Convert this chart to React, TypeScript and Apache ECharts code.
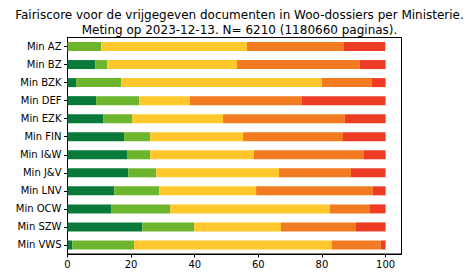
import React, { useEffect, useRef } from "react";
import * as echarts from "echarts";

const categories = ["Min AZ", "Min BZ", "Min BZK", "Min DEF", "Min EZK", "Min FIN", "Min I&W", "Min J&V", "Min LNV", "Min OCW", "Min SZW", "Min VWS"];
const darkGreen = [0, 8.7, 2.7, 9.0, 11.2, 17.8, 18.7, 19.1, 14.7, 13.7, 23.5, 1.5];
const lightGreen = [10.6, 3.8, 14.2, 13.5, 9.1, 8.2, 7.3, 8.8, 14.1, 18.6, 16.3, 19.4];
const yellow = [45.8, 40.8, 63.1, 16.0, 28.6, 29.2, 32.6, 38.6, 30.5, 50.2, 27.3, 62.2];
const orange = [30.5, 38.6, 15.7, 35.2, 38.3, 31.4, 34.6, 22.6, 36.7, 12.6, 23.6, 15.4];
const red = [13.0, 8.1, 4.3, 26.3, 12.8, 13.4, 6.8, 10.9, 4.0, 4.9, 9.3, 1.5];
const xTicks = [0, 20, 40, 60, 80, 100];

const seriesDefs = [
  { name: "dg", data: darkGreen, color: "#0a7a3b" },
  { name: "lg", data: lightGreen, color: "#6db52d" },
  { name: "y", data: yellow, color: "#fec82c" },
  { name: "o", data: orange, color: "#f27a21" },
  { name: "r", data: red, color: "#ee3b23" },
];

export default function App() {
  const ref = useRef<HTMLDivElement>(null);
  useEffect(() => {
    const chart = echarts.init(ref.current!, null, { renderer: "svg" });
    const font = "DejaVu Sans";
    chart.setOption({
      animation: false,
      title: {
        text: "Fairiscore voor de vrijgegeven documenten in Woo-dossiers per Ministerie.\nMeting op 2023-12-13. N= 6210 (1180660 paginas).",
        left: 234.5,
        top: 2,
        textAlign: "center",
        textStyle: { fontFamily: font, fontSize: 12, fontWeight: "normal", color: "#000", lineHeight: 15 },
      },
      grid: { left: 67.5, right: 66.5, top: 37.5, bottom: 24, show: true, borderColor: "#000", borderWidth: 1, backgroundColor: "transparent" },
      xAxis: {
        type: "value",
        min: 0,
        max: 105,
        interval: 20,
        splitLine: { show: false },
        axisLine: { show: true, lineStyle: { color: "#000", width: 1 } },
        axisTick: { show: true, length: 3.5, lineStyle: { color: "#000" }, customValues: xTicks },
        axisLabel: { fontFamily: font, fontSize: 10, color: "#000", margin: 5, customValues: xTicks },
      },
      yAxis: {
        type: "category",
        data: categories,
        inverse: true,
        axisLine: { show: true, lineStyle: { color: "#000", width: 1 } },
        axisTick: { show: true, length: 3.5, alignWithLabel: true, lineStyle: { color: "#000" } },
        axisLabel: { fontFamily: font, fontSize: 10, color: "#000", margin: 6 },
      },
      series: seriesDefs.map((s) => ({
        type: "bar",
        name: s.name,
        stack: "total",
        data: s.data,
        barWidth: "50%",
        itemStyle: { color: s.color },
      })),
    });
    return () => chart.dispose();
  }, []);
  return <div ref={ref} style={{ width: 468, height: 278, position: "absolute", left: 0, top: 0 }} />;
}
